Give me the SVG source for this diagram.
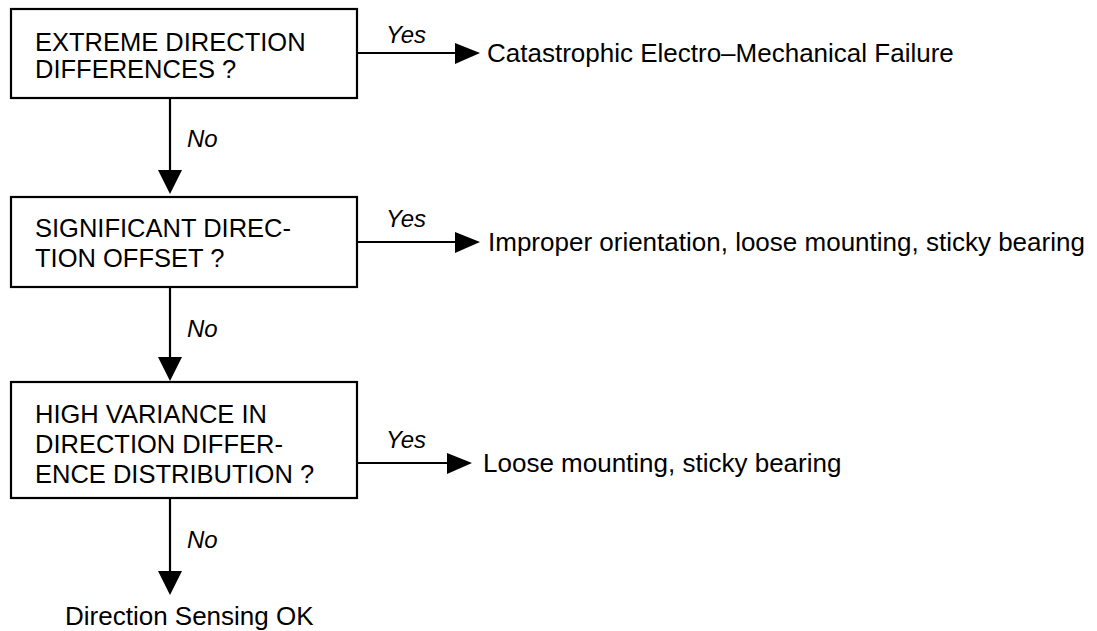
<svg xmlns="http://www.w3.org/2000/svg" width="1097" height="631" viewBox="0 0 1097 631">
<style>
.box{fill:#fff;stroke:#000;stroke-width:2.2}
.t{font-family:"Liberation Sans",Arial,sans-serif;font-size:25.5px;fill:#000}
.o{font-family:"Liberation Sans",Arial,sans-serif;font-size:26px;fill:#000}
.l{font-family:"Liberation Sans",Arial,sans-serif;font-size:24px;font-style:italic;fill:#000}
.c{stroke:#000;stroke-width:2.2;fill:none}
.h{fill:#000}
</style>
<rect width="1097" height="631" fill="#fff"/>
<g id="connectors">
<line class="c" x1="357" y1="53" x2="458" y2="53"/>
<polygon class="h" points="455,43 480,53 455,64"/>
<line class="c" x1="357" y1="242" x2="458" y2="242"/>
<polygon class="h" points="455,232 480,242 455,253"/>
<line class="c" x1="357" y1="463" x2="450" y2="463"/>
<polygon class="h" points="447,453 472,463 447,474"/>
<line class="c" x1="170" y1="98" x2="170" y2="172"/>
<polygon class="h" points="158,170 182,170 170,194"/>
<line class="c" x1="170" y1="287" x2="170" y2="360"/>
<polygon class="h" points="158,357 182,357 170,381"/>
<line class="c" x1="170" y1="498" x2="170" y2="573"/>
<polygon class="h" points="158,571 182,571 170,595"/>
<text class="l" x="386" y="43">Yes</text>
<text class="l" x="386" y="227">Yes</text>
<text class="l" x="386" y="448">Yes</text>
<text class="l" x="187" y="147">No</text>
<text class="l" x="187" y="337">No</text>
<text class="l" x="187" y="548">No</text>
</g>
<g id="q1">
<rect class="box" x="11" y="9" width="346" height="89"/>
<text class="t" x="35" y="51">EXTREME DIRECTION</text>
<text class="t" x="35" y="78">DIFFERENCES ?</text>
</g>
<g id="q2">
<rect class="box" x="11" y="197" width="346" height="90"/>
<text class="t" x="35" y="237">SIGNIFICANT DIREC-</text>
<text class="t" x="35" y="267">TION OFFSET ?</text>
</g>
<g id="q3">
<rect class="box" x="11" y="382" width="346" height="116"/>
<text class="t" x="35" y="423">HIGH VARIANCE IN</text>
<text class="t" x="35" y="453">DIRECTION DIFFER-</text>
<text class="t" x="35" y="483">ENCE DISTRIBUTION ?</text>
</g>
<g id="r1"><text class="o" x="487" y="62">Catastrophic Electro–Mechanical Failure</text></g>
<g id="r2"><text class="o" x="488" y="251">Improper orientation, loose mounting, sticky bearing</text></g>
<g id="r3"><text class="o" x="483" y="472">Loose mounting, sticky bearing</text></g>
<g id="ok"><text class="o" x="65" y="625">Direction Sensing OK</text></g>
</svg>
